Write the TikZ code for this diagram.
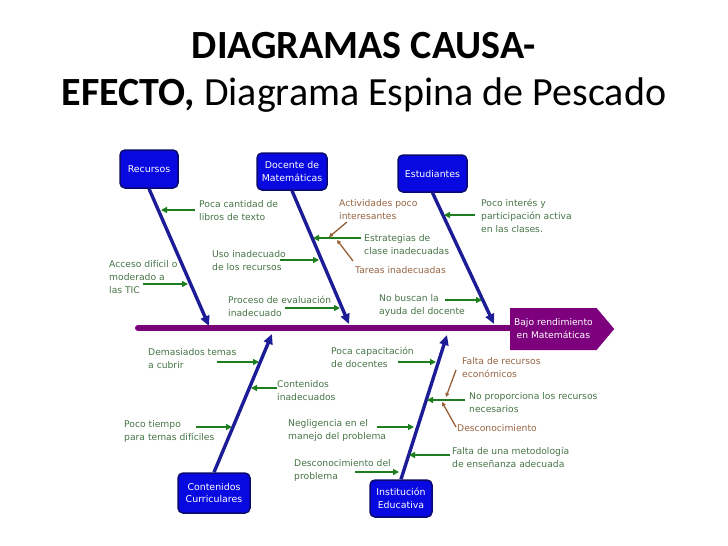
\documentclass[tikz,border=0pt]{standalone}
\usepackage{fontspec}
\setmainfont{DejaVu Sans}
\newfontfamily\titlefont{Carlito}
\usetikzlibrary{arrows.meta}
\usetikzlibrary{shapes.symbols}
\usepackage{xcolor}

\definecolor{boxfill}{RGB}{8,8,225}
\definecolor{boxline}{RGB}{10,10,110}
\definecolor{bonecol}{RGB}{28,28,150}
\definecolor{spinecol}{RGB}{122,0,122}
\definecolor{effectfill}{RGB}{125,0,125}
\definecolor{arrowgreen}{RGB}{30,125,30}
\definecolor{textgreen}{RGB}{70,115,70}
\definecolor{arrowbrown}{RGB}{150,95,55}
\definecolor{textbrown}{RGB}{150,100,65}

\tikzset{
 categoria/.style={draw=boxline, line width=1.5pt, fill=boxfill, rounded corners=5pt, text=white, align=center, inner sep=0pt, font=\fontsize{9.4}{12.5}\selectfont},
 hueso/.style={bonecol, line width=3.4pt, -{Triangle[length=10pt,width=9pt]}},
 espina/.style={spinecol, line width=6pt, line cap=round},
 effectbox/.style={signal, signal to=east, signal pointer angle=100, fill=effectfill, text=white, anchor=west, minimum width=104pt, minimum height=42pt, inner sep=2pt, align=center, font=\fontsize{9.2}{13}\selectfont},
 causa/.style={arrowgreen, line width=2.2pt, -{Triangle[length=6pt,width=6pt]}},
 subcausa/.style={arrowbrown, line width=1.3pt, -{Triangle[length=4pt,width=4pt]}},
 textocausa/.style={text=textgreen, anchor=north west, inner sep=0pt, align=left, font=\fontsize{9.2}{13}\selectfont},
 textosub/.style={textocausa, text=textbrown},
 titulo/.style={anchor=base, inner sep=0pt, font=\titlefont\fontsize{40}{44}\selectfont}
}

\begin{document}
\begin{tikzpicture}[x=1pt,y=-1pt]
\useasboundingbox (0,0) rectangle (728,546);

%title%
\node[titulo] (title1) at (364,58) {\textbf{DIAGRAMAS CAUSA-}};
\node[titulo] (title2) at (364,105) {\textbf{EFECTO,} Diagrama Espina de Pescado};

%spine and effect%
\coordinate (cola) at (138,328);
\draw[espina] (cola) -- (515,328);
\node[effectbox] (efecto) at (510,329) {Bajo rendimiento\\en Matemáticas};

%category boxes%
\node[categoria, minimum width=58pt, minimum height=38pt] (recursos) at (149,169) {Recursos};
\node[categoria, minimum width=70pt, minimum height=37pt] (docente) at (292,171.5) {Docente de\\Matemáticas};
\node[categoria, minimum width=69pt, minimum height=37pt] (estudiantes) at (432.5,173.5) {Estudiantes};
\node[categoria, minimum width=72pt, minimum height=40pt] (contenidos) at (214,493) {Contenidos\\Curriculares};
\node[categoria, minimum width=62pt, minimum height=37pt] (institucion) at (401,498.5) {Institución\\Educativa};

%bones%
\coordinate (recursos-tip) at (209,326);
\coordinate (docente-tip) at (349,324);
\coordinate (estudiantes-tip) at (494,324);
\coordinate (contenidos-tip) at (272,334);
\coordinate (institucion-tip) at (447,335);
\foreach \c in {recursos,docente,estudiantes} \draw[hueso] (\c.south) -- (\c-tip);
\foreach \c in {contenidos,institucion} \draw[hueso] (\c.north) -- (\c-tip);

%causes, top%
\node[textocausa] (t1) at (199,200) {Poca cantidad de\\libros de texto};
\node[textocausa] (t2) at (109,260) {Acceso difícil o\\moderado a\\las TIC};
\node[textocausa] (t3) at (212,250) {Uso inadecuado\\de los recursos};
\node[textocausa] (t4) at (228,296) {Proceso de evaluación\\inadecuado};
\node[textosub] (t5) at (339,199) {Actividades poco\\interesantes};
\node[textocausa] (t6) at (364,234) {Estrategias de\\clase inadecuadas};
\node[textosub] (t7) at (355,266) {Tareas inadecuadas};
\node[textocausa] (t8) at (481,199) {Poco interés y\\participación activa\\en las clases.};
\node[textocausa] (t9) at (379,294) {No buscan la\\ayuda del docente};

%causes, bottom%
\node[textocausa] (t10) at (148,348) {Demasiados temas\\a cubrir};
\node[textocausa] (t11) at (277,380) {Contenidos\\inadecuados};
\node[textocausa] (t12) at (124,420) {Poco tiempo\\para temas difíciles};
\node[textocausa] (t13) at (331,347) {Poca capacitación\\de docentes};
\node[textocausa] (t14) at (288,419) {Negligencia en el\\manejo del problema};
\node[textocausa] (t15) at (294,459) {Desconocimiento del\\problema};
\node[textosub] (t16) at (462,357) {Falta de recursos\\económicos};
\node[textocausa] (t17) at (469,392) {No proporciona los recursos\\necesarios};
\node[textosub] (t18) at (457,424) {Desconocimiento};
\node[textocausa] (t19) at (452,447) {Falta de una metodología\\de enseñanza adecuada};

%green arrows%
\foreach \n/\xa/\xb/\y in {1/195/161/210, 2/143/188/284, 3/280/319/260, 4/285/340/308,
 6/361/313/238, 8/475/444/215, 9/445/482/300, 10/217/259/362, 11/277/251/388,
 12/196/232/427, 13/398/436/362, 14/377/414/427, 15/355/399/472, 17/465/427/400,
 19/450/409/455}
{
 \coordinate (s\n) at (\xa,\y);
 \coordinate (e\n) at (\xb,\y);
 \draw[causa] (s\n) -- (e\n);
}

%brown arrows%
\foreach \n/\xa/\ya/\xb/\yb in {5/347/222/329/237, 7/353/261/337/240, 16/456/370/446/397, 18/456/427/442/402}
{
 \coordinate (s\n) at (\xa,\ya);
 \coordinate (e\n) at (\xb,\yb);
 \draw[subcausa] (s\n) -- (e\n);
}

\end{tikzpicture}
\end{document}
